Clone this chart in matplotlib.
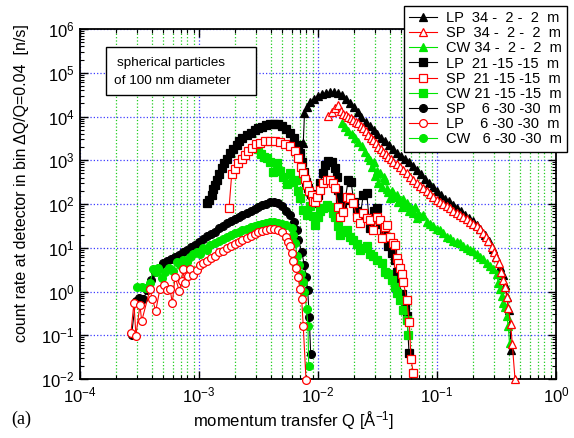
import matplotlib.pyplot as plt
from matplotlib.patches import Rectangle
from matplotlib.ticker import LogLocator, NullFormatter
import numpy as np

plt.rcParams["font.family"] = ["Liberation Sans", "DejaVu Sans"]
plt.rcParams["mathtext.fontset"] = "custom"
plt.rcParams["mathtext.rm"] = "Liberation Sans"
plt.rcParams["mathtext.it"] = "Liberation Sans:italic"
plt.rcParams["mathtext.bf"] = "Liberation Sans:bold"

# Q in units of 1e-3 1/A, count rates in n/s

# 34 - 2 - 2 m
q_lp34 = [7.52, 7.70, 8.13, 8.58, 9.26, 10.0, 10.8, 11.7, 12.6, 13.6, 14.7, 15.8, 17.1, 18.5, 20.0,
          21.5, 23.2, 25.1, 27.1, 29.3, 31.6, 34.1, 36.9, 39.8, 43.0, 46.4, 50.1, 54.1, 58.4, 63.1,
          68.1, 73.6, 79.4, 85.8, 92.6, 100, 108, 117, 126, 136, 147, 158, 171, 185, 200, 215, 232,
          251, 271, 293, 316, 338, 356.6, 372.8, 389.8, 398.9, 410.6, 418.6]
i_lp34 = [2512, 11750, 16600, 20900, 25100, 29500, 32400, 34700, 35500, 36300, 34700, 31600, 25700,
          20400, 16200, 12600, 9770, 7590, 6030, 4900, 3980, 3310, 2690, 2190, 1780, 1480, 1260, 1050,
          891, 741, 603, 479, 380, 302, 240, 195, 158, 132, 115, 95.5, 81.3, 69.2, 57.5, 49.0, 40.7,
          33.1, 26.3, 20.0, 14.5, 9.5, 6.0, 3.7, 2.4, 1.41, 0.76, 0.38, 0.18, 0.046]

q_sp34 = [12.21, 13.04, 13.90, 14.81, 15.61, 16.32, 17.13, 17.97, 18.87, 19.80, 20.78, 21.82, 22.89,
          24.03, 25.22, 26.47, 27.78, 29.15, 30.60, 32.12, 33.71, 35.38, 37.13, 38.98, 40.91, 42.94,
          45.85, 48.88, 52.10, 55.66, 59.31, 63.22, 67.52, 71.97, 76.72, 81.93, 87.36, 93.09, 99.43,
          106.0, 113.0, 120.6, 128.6, 137.1, 146.4, 156.1, 166.3, 177.7, 189.4, 201.8, 215.6, 229.8,
          245.0, 258.1, 269.8, 288.3, 301.3, 313.2, 330.0, 342.9, 356.6, 372.8, 385.3, 397.4, 416.2,
          429.3, 452.4]
i_sp34 = [10470, 12590, 15490, 18200, 13180, 11480, 10720, 10000, 9120, 8320, 7590, 6920, 6170, 5370,
          4570, 3800, 3310, 2880, 2450, 2040, 1820, 1580, 1380, 1200, 1050, 933, 813, 708, 603, 501,
          417, 355, 309, 263, 229, 200, 166, 145, 126, 112, 100, 89.1, 79.4, 70.8, 63.1, 56.2, 50.1,
          44.7, 39.8, 35.5, 31.6, 26.3, 21.4, 17.4, 14.5, 10.5, 7.9, 6.3, 4.4, 2.8, 1.8, 1.26, 0.74,
          0.42, 0.18, 0.062, 0.010]

q_cw34 = [15.82, 16.86, 17.87, 19.20, 20.46, 21.82, 23.30, 24.83, 26.31, 27.35, 28.27, 29.27, 30.13,
          31.31, 32.12, 33.19, 34.30, 35.52, 36.56, 37.79, 38.98, 40.27, 41.64, 42.94, 44.37, 45.85,
          47.29, 48.88, 50.50, 52.10, 53.84, 55.66, 57.63, 59.31, 61.29, 63.22, 65.33, 67.52, 69.65,
          71.97, 76.72, 81.93, 87.36, 93.09, 99.43, 106.0, 113.0, 120.6, 128.6, 137.1, 146.4, 156.1,
          166.3, 177.7, 189.4, 201.8, 215.6, 229.8, 245.0, 261.6, 278.9, 297.3, 317.6, 327.5, 338.3,
          349.7, 360.7, 372.8, 385.3, 397.4, 406.7]
i_cw34 = [7240, 5620, 4570, 3980, 3160, 2630, 2140, 1580, 1200, 1000, 708, 891, 447, 562, 295, 501,
          251, 417, 355, 224, 191, 135, 200, 178, 141, 162, 112, 126, 87.1, 132, 95.5, 105, 70.8,
          83.2, 75.9, 63.1, 83.2, 46.8, 60.3, 52.5, 57.5, 39.8, 35.5, 31.6, 27.5, 25.1, 21.4, 17.8,
          16.6, 14.1, 13.2, 12.6, 11.0, 10.0, 9.1, 8.3, 7.2, 6.3, 5.5, 4.6, 3.8, 3.2, 2.5, 1.58, 1.12,
          0.79, 0.56, 0.45, 0.28, 0.16, 0.065]

# 21 - 15 - 15 m
q_lp21 = [1.161, 1.22, 1.278, 1.319, 1.363, 1.425, 1.481, 1.551, 1.622, 1.709, 1.822, 1.942, 2.074,
          2.15, 2.32, 2.51, 2.71, 2.93, 3.16, 3.41, 3.69, 3.98, 4.30, 4.64, 5.01, 5.41, 5.84, 6.31,
          6.81, 7.06, 7.29, 7.63, 7.93, 8.29, 8.68, 9.13, 9.44, 10.06, 10.39, 10.95, 11.45, 12.21,
          13.04, 13.9, 14.36, 14.81, 15.3, 15.9, 16.9, 17.97, 18.94, 20.07, 21.27, 22.54, 24.03,
          25.66, 27.35, 29.55, 31.31, 33.19, 35.86, 38.98, 41.64, 44.37, 45.85, 47.29, 50.5, 53.8,
          55.97, 58.2]
i_lp21 = [105, 123, 162, 219, 269, 363, 490, 661, 851, 1096, 1445, 1820, 2239, 2690, 3160, 3720, 4270,
          4790, 5370, 5890, 6310, 6610, 6760, 6610, 6030, 5130, 4170, 3310, 2290, 1445, 933, 550, 324,
          229, 170, 123, 105, 162, 295, 501, 776, 977, 933, 661, 417, 209, 135, 79, 126, 355, 316, 112,
          71, 50, 162, 174, 28, 71, 79, 35, 25, 10.7, 7.4, 5.2, 2.8, 1.8, 0.89, 0.45, 0.28, 0.040]

q_sp21 = [1.787, 1.883, 2.006, 2.127, 2.285, 2.435, 2.596, 2.773, 3.013, 3.255, 3.586, 3.951, 4.352,
          4.794, 5.281, 5.818, 6.409, 6.832, 7.155, 7.524, 7.776, 8.035, 8.451, 8.853, 9.132, 9.437,
          9.752, 10.39, 11.08, 11.83, 12.61, 13.45, 13.90, 14.81, 15.31, 16.32, 17.43, 18.57, 19.80,
          21.14, 22.54, 24.03, 25.66, 27.35, 29.15, 31.13, 33.19, 34.30, 36.56, 38.23, 40.27, 42.69,
          44.37, 45.85, 47.29, 48.88, 50.5, 52.1, 55.66, 58.5, 60.46, 63.2]
i_sp21 = [79, 479, 631, 851, 1072, 1318, 1660, 1905, 2344, 2512, 2692, 2818, 2754, 2630, 2399, 2089,
          1660, 1122, 708, 501, 380, 269, 200, 158, 120, 112, 141, 214, 302, 363, 355, 295, 229, 87,
          51, 66, 148, 135, 105, 51, 36, 62, 47, 43, 26, 51, 43, 16.6, 30, 33, 17.8, 12.6, 11.5, 5.8,
          4.5, 3.5, 2.5, 1.66, 0.65, 0.20, 0.028, 0.014]

q_cw21 = [3.149, 3.319, 3.517, 3.727, 3.951, 4.211, 4.497, 4.794, 5.110, 5.458, 5.818, 6.166, 6.534,
          6.832, 7.06, 7.524, 8.035, 8.566, 9.132, 9.437, 10.0, 10.39, 11.08, 11.83, 12.61, 13.37,
          13.90, 14.81, 15.31, 16.32, 17.43, 18.57, 19.80, 21.14, 22.54, 24.03, 25.66, 27.35, 29.15,
          31.13, 34.30, 36.56, 38.98, 41.64, 44.37, 45.85, 48.88, 52.1, 55.66, 57.4]
i_cw21 = [1778, 1413, 1202, 1122, 933, 525, 851, 562, 417, 282, 501, 316, 355, 200, 135, 72, 56, 89,
          52, 33, 50, 69, 79, 95, 87, 63, 51, 32, 19.5, 22.4, 25.7, 17.8, 15.1, 12.0, 8.9, 10, 11.2,
          7.1, 6.6, 5.2, 4.5, 2.8, 2.5, 1.8, 1.29, 0.91, 0.65, 0.38, 0.22, 0.10]

# 6 - 30 - 30 m
q_sp6 = [0.271, 0.293, 0.316, 0.341, 0.369, 0.398, 0.430, 0.464, 0.501, 0.541, 0.584, 0.631, 0.681,
         0.736, 0.794, 0.858, 0.926, 1.00, 1.08, 1.17, 1.26, 1.36, 1.47, 1.58, 1.71, 1.85, 2.00, 2.15,
         2.32, 2.51, 2.71, 2.93, 3.16, 3.41, 3.69, 3.98, 4.30, 4.64, 5.01, 5.41, 5.84, 6.31, 6.61,
         6.83, 7.29, 7.67, 7.93, 8.19, 8.45, 8.68]
i_sp6 = [0.10, 0.60, 0.72, 0.68, 1.1, 1.8, 2.8, 3.4, 4.4, 5.1, 5.5, 6.3, 6.8, 8.1, 9.1, 10.5, 11.7,
         13.5, 15.8, 18.2, 20.4, 23.4, 28.2, 31.6, 36.3, 41.7, 45.7, 51.3, 56.2, 61.7, 67.6, 75.9,
         85.1, 95.5, 102, 110, 112, 107, 89, 69, 55, 38, 26, 15, 8.1, 4.1, 2.2, 1.07, 0.26, 0.037]

q_lp6 = [0.268, 0.284, 0.295, 0.319, 0.330, 0.387, 0.405, 0.433, 0.470, 0.508, 0.535, 0.570, 0.597,
         0.629, 0.683, 0.716, 0.730, 0.763, 0.813, 0.840, 0.890, 0.956, 1.02, 1.08, 1.17, 1.26, 1.36,
         1.47, 1.58, 1.71, 1.85, 2.00, 2.15, 2.32, 2.51, 2.71, 2.93, 3.16, 3.41, 3.69, 3.98, 4.30,
         4.64, 5.01, 5.41, 5.63, 5.82, 6.01, 6.20, 6.53, 6.75, 7.06, 7.29, 7.52, 7.93]
i_lp6 = [0.115, 0.56, 0.098, 0.49, 0.21, 1.12, 0.69, 0.36, 1.17, 1.38, 1.07, 1.15, 0.55, 2.19, 1.02,
         1.74, 3.2, 1.55, 2.24, 3.2, 2.4, 3.1, 4.0, 4.6, 5.1, 5.9, 6.6, 7.8, 8.5, 9.8, 11.0, 12.3,
         13.8, 15.1, 17.0, 18.6, 20.4, 22.4, 24.0, 25.7, 26.3, 26.3, 25.1, 22.9, 17.8, 13.2, 10.7,
         7.4, 5.0, 3.4, 2.2, 1.17, 0.68, 0.16, 0.0095]

q_cw6 = [0.300, 0.330, 0.359, 0.387, 0.413, 0.435, 0.455, 0.486, 0.518, 0.560, 0.605, 0.650, 0.692,
         0.738, 0.788, 0.840, 0.896, 0.956, 1.02, 1.087, 1.161, 1.237, 1.36, 1.47, 1.58, 1.71, 1.85,
         2.00, 2.15, 2.32, 2.51, 2.71, 2.93, 3.16, 3.41, 3.69, 3.98, 4.30, 4.64, 5.01, 5.41, 6.01,
         6.20, 6.41, 6.70, 6.97, 7.16, 7.44, 7.70, 8.01, 8.24, 8.35]
i_cw6 = [1.26, 1.29, 1.2, 1.58, 3.2, 2.8, 3.4, 2.0, 2.8, 3.5, 2.95, 4.8, 4.0, 5.2, 4.8, 6.3, 7.2, 8.1,
         7.1, 10, 8.9, 11.5, 12.6, 14.5, 15.8, 17.8, 19.5, 21.4, 23.4, 25.7, 27.5, 30.2, 31.6, 33.1,
         35.5, 36.3, 38.0, 38.0, 37.2, 35.5, 33.1, 28.2, 20, 12.6, 6.6, 4.0, 2.5, 1.66, 1.0, 0.40,
         0.16, 0.020]

labels = ["LP  34 -  2 -  2  m", "SP  34 -  2 -  2  m", "CW 34 -  2 -  2  m",
          "LP  21 -15 -15  m", "SP  21 -15 -15  m", "CW 21 -15 -15  m",
          "SP    6 -30 -30  m", "LP    6 -30 -30  m", "CW   6 -30 -30  m"]

black = "black"
red = "#ff0000"
green = "#00e600"

fig = plt.figure(figsize=(5.74, 4.38), dpi=100)
ax = fig.add_axes([80 / 574, 1 - 379 / 438, 476 / 574, 350 / 438])


def draw(q, i, marker, color, label, hollow=False, z=2):
    line, = ax.plot(np.array(q) * 1e-3, i, marker=marker, color=color, lw=0.8,
                    mfc="white" if hollow else color, mec=color, ms=5.6, mew=0.9,
                    label=label, zorder=z, clip_on=False)
    return line


# black first, green, then red on top
h_lp34 = draw(q_lp34, i_lp34, "^", black, labels[0], z=2)
h_lp21 = draw(q_lp21, i_lp21, "s", black, labels[3], z=2)
h_sp6 = draw(q_sp6, i_sp6, "o", black, labels[6], z=2)
h_cw34 = draw(q_cw34, i_cw34, "^", green, labels[2], z=3)
h_cw21 = draw(q_cw21, i_cw21, "s", green, labels[5], z=3)
h_cw6 = draw(q_cw6, i_cw6, "o", green, labels[8], z=3)
h_sp34 = draw(q_sp34, i_sp34, "^", red, labels[1], hollow=True, z=4)
h_sp21 = draw(q_sp21, i_sp21, "s", red, labels[4], hollow=True, z=4)
h_lp6 = draw(q_lp6, i_lp6, "o", red, labels[7], hollow=True, z=4)

ax.set_xscale("log")
ax.set_yscale("log")
ax.set_xlim(1e-4, 1)
ax.set_ylim(1e-2, 1e6)
ax.xaxis.set_major_locator(LogLocator(base=10, numticks=20))
ax.yaxis.set_major_locator(LogLocator(base=10, numticks=20))
ax.xaxis.set_minor_locator(LogLocator(base=10, subs=np.arange(2, 10), numticks=40))
ax.yaxis.set_minor_locator(LogLocator(base=10, subs=np.arange(2, 10), numticks=40))
ax.xaxis.set_minor_formatter(NullFormatter())
ax.yaxis.set_minor_formatter(NullFormatter())
ax.tick_params(which="both", direction="in", top=True, right=True)
ax.tick_params(which="major", length=6, width=1, labelsize=12)
ax.tick_params(which="minor", length=3, width=0.8)
ax.tick_params(axis="x", pad=5)
ax.tick_params(axis="y", pad=4)
for s in ax.spines.values():
    s.set_linewidth(1.3)

ax.set_axisbelow(True)
ax.grid(which="major", color="#3c3cff", linestyle=":", linewidth=0.9)
ax.grid(which="minor", axis="x", color="#22cc22", linestyle=":", linewidth=0.9)

fig.text(294 / 574, 1 - 421 / 438, "momentum transfer Q [Å$^{-1}$]", ha="center", va="center",
         fontsize=12)
fig.text(22 / 574, 1 - 183 / 438, "count rate at detector in bin ΔQ/Q=0.04  [n/s]",
         rotation=90, ha="center", va="center", fontsize=11.5)
fig.text(21 / 574, 1 - 419 / 438, "(a)", family=["Liberation Serif", "DejaVu Serif"],
         ha="center", va="center", fontsize=13)

# note box
ax.add_patch(Rectangle((26 / 476, 284 / 350), 150 / 476, 48 / 350, transform=ax.transAxes,
                       facecolor="white", edgecolor="black", linewidth=1.0, zorder=5))
ax.text(37 / 476, 316 / 350, "spherical particles", transform=ax.transAxes, fontsize=9.7,
        ha="left", va="center", zorder=6)
ax.text(34 / 476, 298 / 350, "of 100 nm diameter", transform=ax.transAxes, fontsize=9.7,
        ha="left", va="center", zorder=6)

handles = [h_lp34, h_sp34, h_cw34, h_lp21, h_sp21, h_cw21, h_sp6, h_lp6, h_cw6]
leg = ax.legend(handles, labels, loc="upper right", bbox_to_anchor=(567 / 574, 1 - 6 / 438),
                bbox_transform=fig.transFigure, fontsize=10.5, fancybox=False, framealpha=1,
                edgecolor="black", numpoints=1, handlelength=1.9, handletextpad=0.6,
                labelspacing=0.08, borderpad=0.35, borderaxespad=0)
leg.get_frame().set_linewidth(1.0)
leg.set_zorder(10)

fig.savefig("out.png", dpi=100)
